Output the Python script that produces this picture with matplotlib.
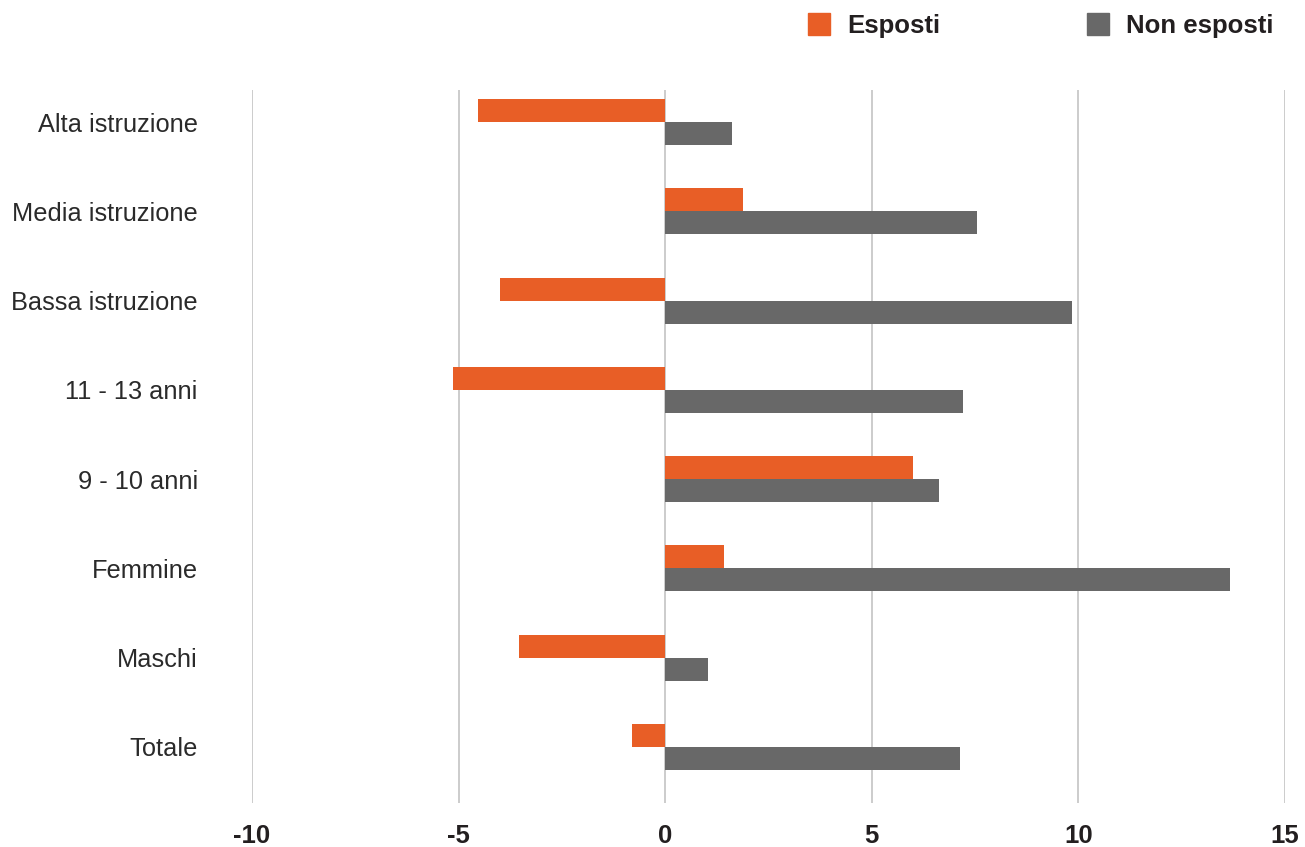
import matplotlib
matplotlib.use("Agg")
import matplotlib.pyplot as plt
import numpy as np
from matplotlib.patches import Rectangle

plt.rcParams['font.family'] = ['Liberation Sans', 'DejaVu Sans']

categories = ["Totale", "Maschi", "Femmine", "9 - 10 anni", "11 - 13 anni",
              "Bassa istruzione", "Media istruzione", "Alta istruzione"]
esposti = [-0.80, -3.53, 1.43, 6.00, -5.13, -4.01, 1.89, -4.52]
non_esposti = [7.13, 1.04, 13.66, 6.62, 7.20, 9.84, 7.54, 1.62]
x_ticks = [-10, -5, 0, 5, 10, 15]
series_names = ["Esposti", "Non esposti"]

ORANGE = "#E85E26"
GREY = "#686868"
TEXT = "#231f20"

W, H = 1305, 847
fig = plt.figure(figsize=(W / 100, H / 100), dpi=100)
ax = fig.add_axes([252 / W, 1 - 803 / H, (1285 - 252) / W, (803 - 90) / H])

y = np.arange(len(categories))
h = 0.258
ax.barh(y + h / 2, esposti, height=h, color=ORANGE, zorder=3)
ax.barh(y - h / 2, non_esposti, height=h, color=GREY, zorder=3)

ax.set_xlim(-10, 15)
ax.set_ylim(-0.63, 7.36)
ax.set_xticks(x_ticks)
ax.set_xticklabels([str(t) for t in x_ticks], fontsize=18.5, fontweight='bold', color=TEXT)
ax.set_yticks(y)
ax.set_yticklabels(categories, fontsize=18.3, color="#2a2a2a")
ax.tick_params(axis='both', length=0)
ax.tick_params(axis='x', pad=15)
ax.tick_params(axis='y', pad=39)
ax.grid(axis='x', color="#c8c8c8", linewidth=1.3, zorder=0)
for s in ax.spines.values():
    s.set_visible(False)

# legend drawn as squares plus bold labels across the top
legend_items = [(808, 847, ORANGE), (1087, 1126, GREY)]
for name, (sx, tx, col) in zip(series_names, legend_items):
    fig.patches.append(Rectangle((sx / W, 1 - 35 / H), 22 / W, 22 / H,
                                 transform=fig.transFigure, color=col, figure=fig))
    fig.text(tx / W, 1 - 26 / H, name, fontsize=18.5, fontweight='bold',
             color=TEXT, va='center', ha='left')

fig.savefig("out.png", dpi=100)
